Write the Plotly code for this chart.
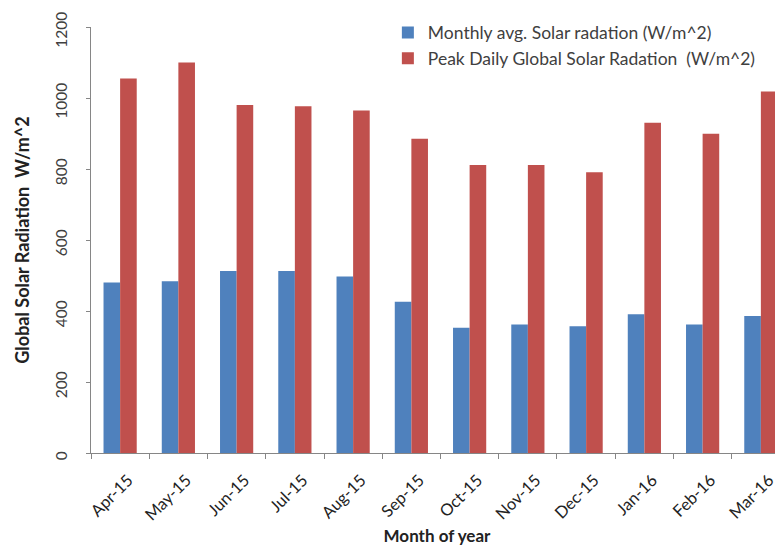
import plotly.graph_objects as go

months = ["Apr-15", "May-15", "Jun-15", "Jul-15", "Aug-15", "Sep-15",
          "Oct-15", "Nov-15", "Dec-15", "Jan-16", "Feb-16", "Mar-16"]
monthly_avg = [480, 484, 513, 513, 497, 426, 353, 362, 357, 391, 362, 386]
peak_daily = [1055, 1100, 980, 977, 965, 885, 811, 811, 791, 930, 899, 1018]

series_names = ["Monthly avg. Solar radation (W/m^2)",
                "Peak Daily Global Solar Radation  (W/m^2)"]
colors = ["#4F81BD", "#C0504D"]

FONT = "Lato, 'Open Sans', sans-serif"

fig = go.Figure()
fig.add_trace(go.Bar(x=months, y=monthly_avg, name=series_names[0],
                     marker=dict(color=colors[0], line=dict(width=0))))
fig.add_trace(go.Bar(x=months, y=peak_daily, name=series_names[1],
                     marker=dict(color=colors[1], line=dict(width=0))))

# page body has an 8px default margin, so figure coords = window - 8
fig.update_layout(
    width=783, height=548,
    margin=dict(l=83, r=8, t=19, b=103, autoexpand=False),
    paper_bgcolor="white", plot_bgcolor="white",
    barmode="group", bargap=0.43, bargroupgap=0,
    font=dict(family=FONT, size=15, color="#404040"),
    legend=dict(x=0.429, y=1.029, xanchor="left", yanchor="top",
                traceorder="normal",
                font=dict(family=FONT, size=17.5, color="#404040"),
                bgcolor="rgba(0,0,0,0)"),
    xaxis=dict(range=[-0.5, 11.38], showgrid=False, showline=True,
               linecolor="#868686", linewidth=1, ticks="outside",
               tickson="boundaries", ticklen=5, tickcolor="#868686",
               tickangle=-45, tickfont=dict(size=16.5, color="#222222"),
               ticklabelshift=8, ticklabelstandoff=10,
               ticklabeloverflow="allow",
               automargin=False,
               title=dict(text="<b>Month of year</b>", standoff=6,
                          font=dict(size=17, color="#222222"))),
    yaxis=dict(range=[0, 1200], dtick=200, showgrid=False, showline=True,
               linecolor="#868686", linewidth=1, ticks="outside",
               ticklen=4, tickcolor="#868686", tickangle=-90,
               tickfont=dict(size=15.5, color="#404040"),
               ticklabelstandoff=13, ticklabelshift=5,
               ticklabeloverflow="allow",
               zeroline=False, automargin=False,
               title=dict(text="<b>Global Solar Radiation  W/m^2</b>",
                          standoff=17,
                          font=dict(size=18, color="#222222"))),
)

fig.write_html("out.html")
